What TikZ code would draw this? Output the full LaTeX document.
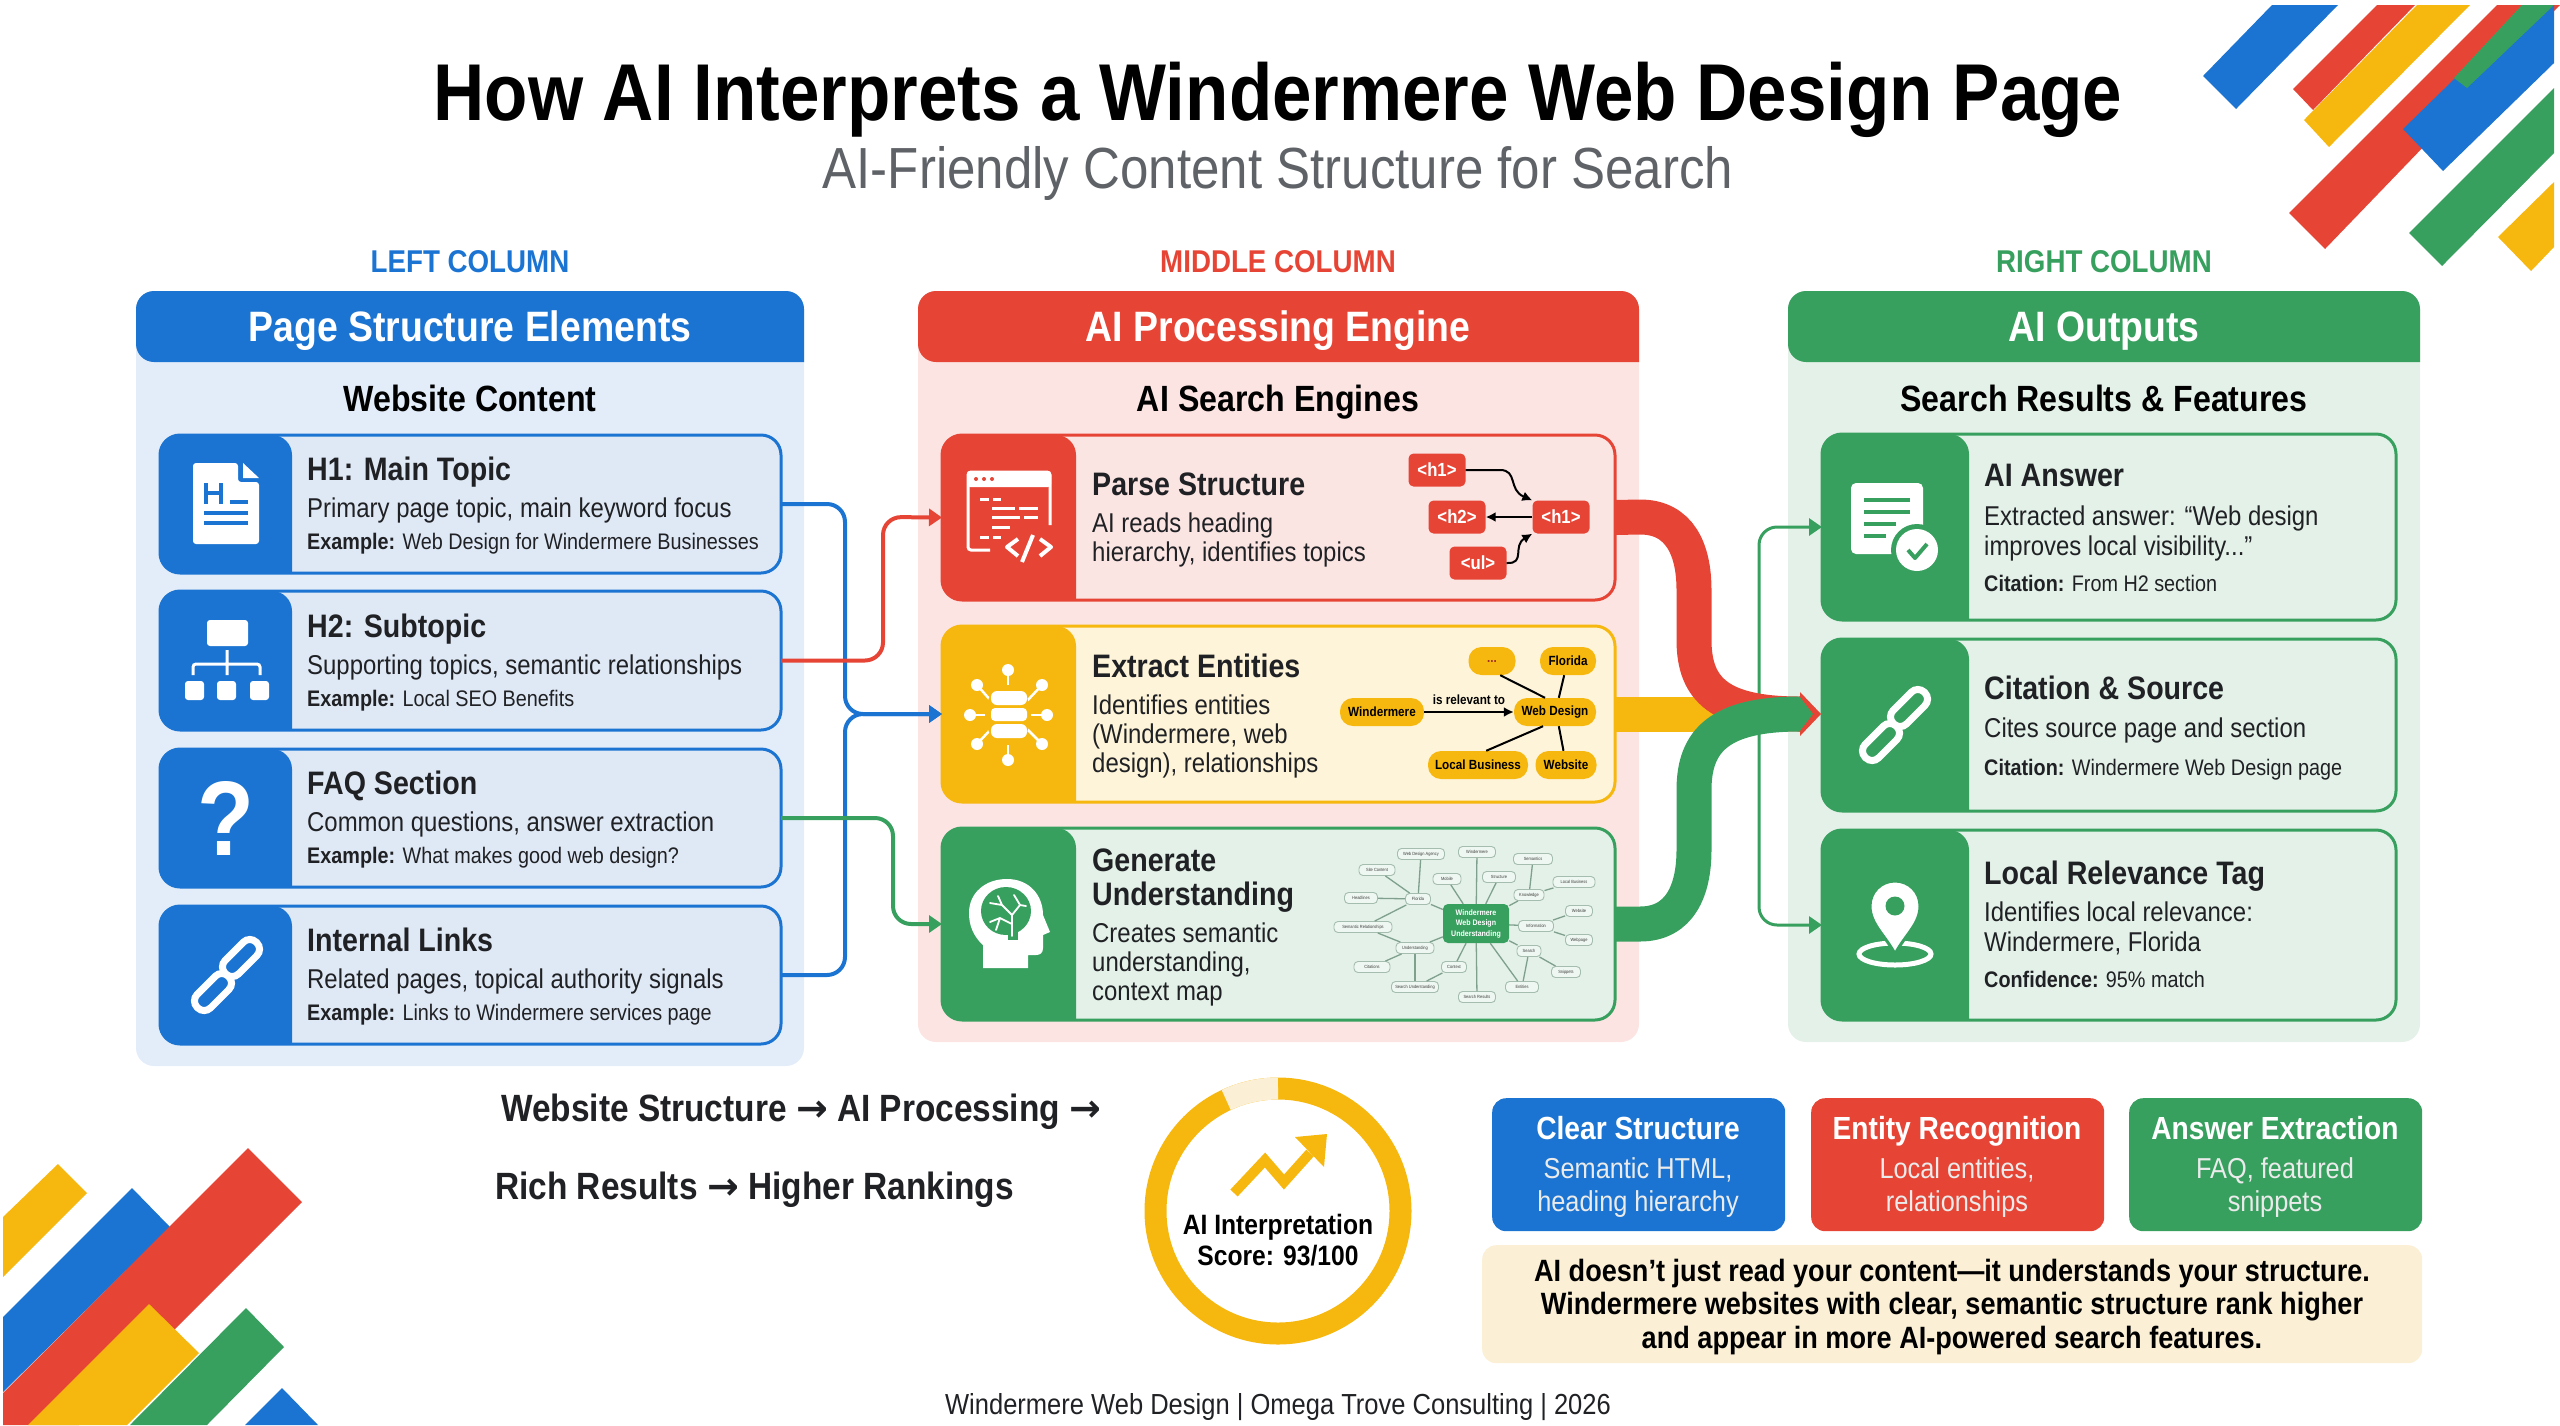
\documentclass[tikz,border=0pt]{standalone}
\usepackage{fontspec}
\setmainfont[FakeStretch=0.88]{Liberation Sans}
\newfontfamily\arrowfont{DejaVu Sans}
\usepackage{tikz}
\usetikzlibrary{arrows.meta,calc,positioning}
\definecolor{gblue}{HTML}{1B74D2}
\definecolor{gred}{HTML}{E64536}
\definecolor{gyellow}{HTML}{F6B70F}
\definecolor{ggreen}{HTML}{38A05F}
\definecolor{bluepanel}{HTML}{E3EDF9}
\definecolor{redpanel}{HTML}{FCE4E2}
\definecolor{greenpanel}{HTML}{E4F1E8}
\definecolor{bluecard}{HTML}{DFE9F6}
\definecolor{redcard}{HTML}{FBE5E3}
\definecolor{yellowcard}{HTML}{FEF4D9}
\definecolor{greencard}{HTML}{E3F1E8}
\definecolor{creambox}{HTML}{FBF0D6}
\definecolor{palering}{HTML}{FBEFD5}
\definecolor{inkgray}{HTML}{202124}
\definecolor{subgray}{HTML}{5F6368}
\definecolor{mapline}{HTML}{7FA08C}
\newcommand{\flowarrow}{{\arrowfont\bfseries →}}
\tikzset{
    panel/.style 2 args={rounded corners=18pt, fill=#1, inner sep=0, outer sep=0, anchor=north west,
        path picture={\fill[#2] (path picture bounding box.north west) rectangle ++(900,71);}},
    card/.style n args={3}{rounded corners=20pt, draw=#2, fill=#1, line width=3pt, inner sep=0, outer sep=0, anchor=north west,
        path picture={\fill[#2] (path picture bounding box.north west) rectangle ++(#3,300);}},
    collabel/.style={inner sep=0, anchor=base, font=\fontsize{31.5}{38}\selectfont\bfseries},
    headtext/.style={inner sep=0, anchor=base, text=white, font=\fontsize{42.5}{50}\selectfont\bfseries},
    subhead/.style={inner sep=0, anchor=base, text=black, font=\fontsize{36.5}{44}\selectfont\bfseries},
    cardhead/.style={inner sep=0, anchor=base west, text=inkgray, font=\fontsize{32.5}{39}\selectfont\bfseries},
    cardtext/.style={inner sep=0, anchor=base west, text=inkgray, font=\fontsize{27.2}{32}\selectfont},
    cardex/.style={inner sep=0, anchor=base west, text=inkgray, font=\fontsize{22.5}{27}\selectfont},
    conn/.style={draw=#1, line width=4pt, rounded corners=18pt, -{Triangle[length=13pt,width=17pt]}},
    ribbon/.style={draw=#1, line width=35pt},
    tagnode/.style={fill=gred, rounded corners=5pt, text=white, inner sep=0, minimum width=57pt, minimum height=33pt, font=\fontsize{19}{22}\selectfont\bfseries},
    tagline/.style={draw=black, line width=2pt, -{Latex[length=10pt,width=10pt]}},
    entnode/.style={fill=gyellow, rounded corners=13pt, text=black, inner sep=0, minimum height=28pt, font=\fontsize{13.3}{16}\selectfont\bfseries},
    mappill/.style={draw=mapline!70, fill=greencard!60!white, rounded corners=4pt, line width=0.9pt, inner sep=0, minimum height=11pt, text=black!75, font=\fontsize{4.5}{5}\selectfont},
    mapedge/.style={draw=mapline, line width=1.3pt},
    chiptitle/.style={inner sep=0, anchor=base, text=white, font=\fontsize{32}{38}\selectfont\bfseries},
    chiptext/.style={inner sep=0, anchor=base, text=white!92!black, font=\fontsize{28.8}{34}\selectfont},
    claim/.style={inner sep=0, anchor=base, text=black, font=\fontsize{30.8}{37}\selectfont\bfseries},
    flowline/.style={inner sep=0, anchor=base west, text=inkgray, font=\fontsize{38}{45}\selectfont\bfseries},
    scorenode/.style={inner sep=0, anchor=base, text=black, font=\fontsize{28}{34}\selectfont\bfseries},
    chainlink/.style={rectangle, draw=white, rounded corners=9pt, line width=7pt, minimum width=44pt, minimum height=19pt, rotate=45},
    chainicon/.pic={
        \node[chainlink] (a) at (14,-17) {};
        \node[chainlink] (b) at (-14,17) {};
    }
}
\begin{document}
\begin{tikzpicture}[x=1pt,y=-1pt]
\useasboundingbox (0,0) rectangle (2560,1425);

    % corner bars, top right
    \fill[gred] (2293,89)--(2313,110)--(2415,5)--(2377,5)--cycle;
    \fill[gyellow] (2304,120)--(2329,147)--(2470,5)--(2417,5)--cycle;
    \fill[gblue] (2203,76)--(2236,109)--(2338,5)--(2272,5)--cycle;
    \fill[gred] (2289,213)--(2325,249)--(2560,5)--(2497,5)--cycle;
    \fill[gblue] (2403,129)--(2443,171)--(2554,63)--(2554,5)--(2530,5)--cycle;
    \fill[ggreen] (2454,78)--(2467,88)--(2554,5)--(2522,5)--cycle;
    \fill[ggreen] (2409,233)--(2442,266)--(2554,153)--(2554,88)--cycle;
    \fill[gyellow] (2498,237)--(2531,271)--(2554,247)--(2554,182)--cycle;
    % corner bars, bottom left
    \fill[gyellow] (3,1217)--(58,1164)--(87,1193)--(3,1277)--cycle;
    \fill[gblue] (132,1188)--(170,1227)--(3,1392)--(3,1317)--cycle;
    \fill[gred] (248,1148)--(302,1202)--(79,1425)--(3,1425)--(3,1393)--cycle;
    \fill[ggreen] (246,1308)--(284,1347)--(207,1425)--(130,1425)--cycle;
    \fill[gyellow] (149,1304)--(199,1353)--(127,1425)--(28,1425)--cycle;
    \fill[gblue] (282,1388)--(318,1425)--(245,1425)--cycle;

    % titles
    \node[inner sep=0, anchor=base, text=black, font=\fontsize{80.6}{96}\selectfont\bfseries] (title) at (1278,120) {How AI Interprets a Windermere Web Design Page};
    \node[inner sep=0, anchor=base, text=subgray, font=\fontsize{58}{68}\selectfont] (subtitle) at (1278,188) {AI-Friendly Content Structure for Search};
    \node[collabel, text=gblue] (leftlabel) at (470,272) {LEFT COLUMN};
    \node[collabel, text=gred] (midlabel) at (1278,272) {MIDDLE COLUMN};
    \node[collabel, text=ggreen] (rightlabel) at (2104,272) {RIGHT COLUMN};

    % panels
    \node[panel={bluepanel}{gblue}, minimum width=668pt, minimum height=775pt] (leftpanel) at (136,291) {};
    \node[panel={redpanel}{gred}, minimum width=721pt, minimum height=751pt] (midpanel) at (918,291) {};
    \node[panel={greenpanel}{ggreen}, minimum width=632pt, minimum height=751pt] (rightpanel) at (1788,291) {};
    \node[headtext] (lefthead) at (470,341) {Page Structure Elements};
    \node[headtext] (midhead) at (1278,341) {AI Processing Engine};
    \node[headtext] (righthead) at (2104,341) {AI Outputs};
    \node[subhead] (leftsub) at (470,411) {Website Content};
    \node[subhead] (midsub) at (1278,411) {AI Search Engines};
    \node[subhead] (rightsub) at (2104,411) {Search Results \& Features};

    % left cards
    \node[card={bluecard}{gblue}{132}, minimum width=621pt, minimum height=138pt] (h1card) at (160,435) {};
    \node[card={bluecard}{gblue}{132}, minimum width=621pt, minimum height=139pt] (h2card) at (160,591) {};
    \node[card={bluecard}{gblue}{132}, minimum width=621pt, minimum height=138pt] (faqcard) at (160,749) {};
    \node[card={bluecard}{gblue}{132}, minimum width=621pt, minimum height=138pt] (linkcard) at (160,906) {};

    % middle cards
    \node[card={redcard}{gred}{134}, minimum width=673pt, minimum height=165pt] (parsecard) at (942,435) {};
    \node[card={yellowcard}{gyellow}{134}, minimum width=673pt, minimum height=176pt] (extractcard) at (942,626) {};
    \node[card={greencard}{ggreen}{134}, minimum width=673pt, minimum height=192pt] (gencard) at (942,828) {};

    % right cards
    \node[card={greencard}{ggreen}{147}, minimum width=574pt, minimum height=186pt] (answercard) at (1822,434) {};
    \node[card={greencard}{ggreen}{147}, minimum width=574pt, minimum height=172pt] (citecard) at (1822,639) {};
    \node[card={greencard}{ggreen}{147}, minimum width=574pt, minimum height=190pt] (localcard) at (1822,830) {};

    % left card texts
    \node[cardhead] (h1head) at (307,480) {H1: Main Topic};
    \node[cardtext] (h1text) at (307,517) {Primary page topic, main keyword focus};
    \node[cardex] (h1ex) at (307,549) {\textbf{Example:} Web Design for Windermere Businesses};
    \node[cardhead] (h2head) at (307,637) {H2: Subtopic};
    \node[cardtext] (h2text) at (307,674) {Supporting topics, semantic relationships};
    \node[cardex] (h2ex) at (307,706) {\textbf{Example:} Local SEO Benefits};
    \node[cardhead] (faqhead) at (307,794) {FAQ Section};
    \node[cardtext] (faqtext) at (307,831) {Common questions, answer extraction};
    \node[cardex] (faqex) at (307,863) {\textbf{Example:} What makes good web design?};
    \node[cardhead] (linkhead) at (307,951) {Internal Links};
    \node[cardtext] (linktext) at (307,988) {Related pages, topical authority signals};
    \node[cardex] (linkex) at (307,1020) {\textbf{Example:} Links to Windermere services page};

    % middle card texts
    \node[cardhead] (parsehead) at (1092,495) {Parse Structure};
    \node[cardtext] (parse1) at (1092,532) {AI reads heading};
    \node[cardtext] (parse2) at (1092,561) {hierarchy, identifies topics};
    \node[cardhead] (exthead) at (1092,677) {Extract Entities};
    \node[cardtext] (ext1) at (1092,714) {Identifies entities};
    \node[cardtext] (ext2) at (1092,743) {(Windermere, web};
    \node[cardtext] (ext3) at (1092,772) {design), relationships};
    \node[cardhead] (genhead1) at (1092,871) {Generate};
    \node[cardhead] (genhead2) at (1092,905) {Understanding};
    \node[cardtext] (gen1) at (1092,942) {Creates semantic};
    \node[cardtext] (gen2) at (1092,971) {understanding,};
    \node[cardtext] (gen3) at (1092,1000) {context map};

    % right card texts
    \node[cardhead] (anshead) at (1984,486) {AI Answer};
    \node[cardtext] (ans1) at (1984,525) {Extracted answer: “Web design};
    \node[cardtext] (ans2) at (1984,555) {improves local visibility...”};
    \node[cardex] (ans3) at (1984,591) {\textbf{Citation:} From H2 section};
    \node[cardhead] (citehead) at (1984,699) {Citation \& Source};
    \node[cardtext] (cite1) at (1984,737) {Cites source page and section};
    \node[cardex] (cite2) at (1984,775) {\textbf{Citation:} Windermere Web Design page};
    \node[cardhead] (lochead) at (1984,884) {Local Relevance Tag};
    \node[cardtext] (loc1) at (1984,921) {Identifies local relevance:};
    \node[cardtext] (loc2) at (1984,951) {Windermere, Florida};
    \node[cardex] (loc3) at (1984,987) {\textbf{Confidence:} 95\% match};

    % left icons
    \fill[white, rounded corners=3pt] (193,463)--(238,463)--(238,482)--(259,482)--(259,544)--(193,544)--cycle;
    \fill[white] (243,463)--(259,478)--(243,478)--cycle;
    \draw[gblue, line width=4pt] (206,483)--(206,504) (221,483)--(221,504) (206,493)--(221,493);
    \draw[gblue, line width=4pt] (230,502)--(248,502) (204,513)--(248,513) (204,523)--(248,523);
    \fill[white, rounded corners=3pt] (207,620) rectangle (248,646);
    \draw[white, line width=3pt, rounded corners=3pt] (227,650)--(227,675) (193,675)--(193,664)--(260,664)--(260,675);
    \fill[white, rounded corners=3pt] (185,681) rectangle (204,700);
    \fill[white, rounded corners=3pt] (217,681) rectangle (236,700);
    \fill[white, rounded corners=3pt] (250,681) rectangle (269,700);
    \node[inner sep=0, text=white, font=\fontsize{106}{110}\selectfont\bfseries] (qmark) at (226,818) {?};
    \pic (linkicon) at (227,975) {chainicon};

    % middle icons
    \draw[white, line width=3pt, rounded corners=3pt] (990,550)--(968,550)--(968,472)--(1050,472)--(1050,525);
    \fill[white, rounded corners=3pt] (967,471) rectangle (1051,487);
    \foreach \dotx in {976,984,992} \fill[gred] (\dotx,479) circle (2pt);
    \draw[white, line width=3pt] (980,499)--(989,499) (993,499)--(1001,499) (992,508)--(1015,508) (1019,508)--(1038,508)
        (992,517)--(1020,517) (1024,517)--(1038,517) (992,527)--(1010,527) (980,537)--(989,537) (993,537)--(1001,537);
    \draw[white, line width=4pt, line join=round] (1018,539)--(1007,547)--(1018,556) (1033,535)--(1022,562) (1040,539)--(1051,547)--(1040,556);
    \foreach \spx/\spy/\balx/\baly in {1008/700/1008/670, 1008/732/1008/760, 992/715/970/715, 1026/715/1047/715, 992/702/977/685, 1026/702/1042/685, 992/728/977/744, 1026/728/1042/744} {
        \draw[white, line width=2.5pt] (\spx,\spy)--(\balx,\baly);
        \fill[white] (\balx,\baly) circle (6pt);
    }
    \fill[gyellow] (1008,715) ellipse (23pt and 30pt);
    \fill[white, rounded corners=6pt] (991,691) rectangle (1027,705);
    \fill[white, rounded corners=4pt] (991,708) rectangle (1027,721);
    \fill[white, rounded corners=6pt] (991,724) rectangle (1027,738);
    \fill[white] (983,968)--(983,945) .. controls (973,936) and (969,925) .. (969,913) .. controls (969,893) and (985,879) .. (1007,879) .. controls (1030,879) and (1043,896) .. (1043,915) -- (1050,932) -- (1043,935) -- (1043,948) .. controls (1043,953) and (1040,955) .. (1036,955) -- (1028,955) -- (1028,968) -- cycle;
    \fill[ggreen] (1006,911) ellipse (25pt and 24pt);
    \fill[ggreen] (1008,925) rectangle (1018,940);
    \draw[white, line width=1.8pt, line cap=round, line join=round] (1012,936)--(1012,915)--(1020,905)--(1026,906) (1012,915)--(1002,905)--(998,896) (1002,905)--(990,903) (1012,924)--(1000,918)--(990,922) (1000,918)--(996,930) (1020,905)--(1014,895);

    % right icons
    \fill[white, rounded corners=5pt] (1851,483) rectangle (1923,554);
    \draw[ggreen, line width=3.5pt] (1864,500)--(1910,500) (1864,512)--(1910,512) (1864,524)--(1896,524) (1864,536)--(1886,536);
    \fill[ggreen] (1917,550) circle (26pt);
    \fill[white] (1917,550) circle (21pt);
    \draw[ggreen, line width=4pt, line join=round] (1908,550)--(1915,558)--(1927,544);
    \pic (citeicon) at (1895,725) {chainicon};
    \draw[white, line width=5pt] (1895,954) ellipse (36pt and 11pt);
    \fill[white, draw=ggreen, line width=3pt] (1895,954) .. controls (1885,935) and (1870,924) .. (1870,906) .. controls (1870,892) and (1881,881) .. (1895,881) .. controls (1909,881) and (1920,892) .. (1920,906) .. controls (1920,924) and (1905,935) .. (1895,954) -- cycle;
    \fill[ggreen] (1895,906) circle (9.5pt);

    % tags in parse card
    \node[tagnode] (tagtop) at (1437,470) {<h1>};
    \node[tagnode] (tagsub) at (1457,517) {<h2>};
    \node[tagnode] (tagmain) at (1561,517) {<h1>};
    \node[tagnode] (taglist) at (1478,563) {<ul>};
    \draw[tagline] (tagtop.east) -- (1500,470) .. controls (1518,470) and (1508,490) .. (tagmain.north west);
    \draw[tagline] (tagmain.west) -- (tagsub.east);
    \draw[tagline] (taglist.east) .. controls (1526,564) and (1512,546) .. (tagmain.south west);

    % entity graph in extract card
    \node[entnode, minimum width=84pt] (entwin) at (1382,712) {Windermere};
    \node[entnode, minimum width=82pt] (entweb) at (1555,712) {Web Design};
    \node[entnode, minimum width=47pt, text=gred!70!black] (entdots) at (1492,661) {...};
    \node[entnode, minimum width=56pt] (entflo) at (1568,661) {Florida};
    \node[entnode, minimum width=100pt] (entloc) at (1478,765) {Local Business};
    \node[entnode, minimum width=61pt] (entsite) at (1566,765) {Website};
    \draw[tagline] (entwin) -- node[above=5pt, inner sep=1pt, text=black, font=\fontsize{13.3}{16}\selectfont\bfseries] (relevant) {is relevant to} (entweb);
    \draw[line width=2pt] (entdots.-60) -- (entweb.125);
    \draw[line width=2pt] (entflo.-105) -- (entweb.75);
    \draw[line width=2pt] (entloc.60) -- (entweb.-130);
    \draw[line width=2pt] (entsite.100) -- (entweb.-75);

    % mind map in generate card
    \node[fill=ggreen, rounded corners=5pt, inner sep=0, minimum width=66pt, minimum height=39pt, align=center, text=white, font=\fontsize{8}{10.5}\selectfont\bfseries] (mapcore) at (1476,923.5) {Windermere\\Web Design\\Understanding};
    \foreach \mapname/\mapx/\mapy/\mapw/\maptxt in {
        m1/1421/854/47/Web Design Agency, m2/1477/852/37/Windermere, m3/1533/859/39/Semantics,
        m4/1377/870/36/Site Content, m5/1447/879/28/Mobile, m6/1499/877/33/Structure,
        m7/1529/895/30/Knowledge, m8/1574/882/42/Local Business, m9/1361/898/33/Headlines,
        m10/1418/899/25/Florida, m11/1579/911/27/Website, m12/1363/927/58/Semantic Relationships,
        m13/1536/926/35/Information, m14/1579/940/27/Webpage, m15/1415/948/38/Understanding,
        m16/1529/951/24/Search, m17/1372/967/36/Citations, m18/1454/967/25/Context,
        m19/1566/972/29/Snippets, m20/1415/987/47/Search Understanding, m21/1522/987/33/Entities,
        m22/1477/997/37/Search Results} {
        \node[mappill, minimum width=\mapw pt] (\mapname) at (\mapx,\mapy) {\maptxt};
    }
    \foreach \mapa/\mapb in {mapcore/m2, mapcore/m5, mapcore/m6, mapcore/m7, mapcore/m10, mapcore/m13, mapcore/m15, mapcore/m16, mapcore/m18, mapcore/m21, mapcore/m22,
        m1/m10, m4/m10, m9/m10, m10/m12, m12/m15, m15/m17, m15/m20, m18/m20, m3/m7, m7/m8, m13/m11, m13/m14, m16/m19, m16/m21} {
        \draw[mapedge] (\mapa) -- (\mapb);
    }

    % thin connectors
    \coordinate (bluebus) at (845,714);
    \coordinate (redbus) at (883,517);
    \coordinate (greenbus) at (893,924);
    \coordinate (merge) at (1759,714);
    \coordinate (ribbonend) at (1800,714);
    \draw[conn=gblue] (h1card.east) -| (bluebus) -- (extractcard.west);
    \draw[conn=gblue] (linkcard.east) -| (bluebus) -- (extractcard.west);
    \draw[conn=gred] (h2card.east) -| (redbus) -- (parsecard.west);
    \draw[conn=ggreen] (faqcard.east) -| (greenbus) -- (gencard.west);
    \draw[conn=ggreen, line width=3pt] (merge) |- (answercard.west);
    \draw[conn=ggreen, line width=3pt] (merge) |- (localcard.west);

    % ribbons
    \draw[ribbon=gyellow] (extractcard.east) -- (merge);
    \draw[ribbon=gred] (parsecard.east) -- (1640,517) .. controls (1680,517) and (1694,550) .. (1694,590) -- (1694,640) .. controls (1694,690) and (1720,714) .. (ribbonend);
    \fill[gred] (1800,692)--(1821,714)--(1800,736)--cycle;
    \draw[ribbon=ggreen] (gencard.east) -- (1640,924) .. controls (1680,924) and (1694,890) .. (1694,850) -- (1694,790) .. controls (1694,740) and (1720,714) .. (ribbonend);
    \fill[ggreen] (1799,696)--(1813,714)--(1799,732)--cycle;

    % flow text
    \node[flowline] (flow1) at (501,1121) {Website Structure \flowarrow{} AI Processing \flowarrow};
    \node[flowline] (flow2) at (495,1199) {Rich Results \flowarrow{} Higher Rankings};

    % score ring
    \node[circle, draw=gyellow, line width=22pt, minimum size=245pt, inner sep=0, outer sep=0] (scorering) at (1278,1211) {};
    \draw[palering, line width=22pt] (scorering.north) .. controls (1260.1,1088.5) and (1242.4,1092.4) .. (1226.2,1100);
    \draw[gyellow, line width=10pt] (1234,1193)--(1265,1160)--(1284,1182)--(1310,1153);
    \fill[gyellow] (1327,1134)--(1295,1137)--(1324,1167)--cycle;
    \node[scorenode] (score1) at (1278,1234) {AI Interpretation};
    \node[scorenode] (score2) at (1278,1265) {Score: 93/100};

    % chips and claim
    \node[fill=gblue, rounded corners=14pt, inner sep=0, minimum width=293pt, minimum height=133pt, anchor=north west] (chipblue) at (1492,1098) {};
    \node[fill=gred, rounded corners=14pt, inner sep=0, minimum width=293pt, minimum height=133pt, anchor=north west] (chipred) at (1811,1098) {};
    \node[fill=ggreen, rounded corners=14pt, inner sep=0, minimum width=293pt, minimum height=133pt, anchor=north west] (chipgreen) at (2129,1098) {};
    \node[chiptitle] (blue1) at (1638,1139) {Clear Structure};
    \node[chiptext] (blue2) at (1638,1178) {Semantic HTML,};
    \node[chiptext] (blue3) at (1638,1211) {heading hierarchy};
    \node[chiptitle] (red1) at (1957,1139) {Entity Recognition};
    \node[chiptext] (red2) at (1957,1178) {Local entities,};
    \node[chiptext] (red3) at (1957,1211) {relationships};
    \node[chiptitle] (green1) at (2275,1139) {Answer Extraction};
    \node[chiptext] (green2) at (2275,1178) {FAQ, featured};
    \node[chiptext] (green3) at (2275,1211) {snippets};
    \node[fill=creambox, rounded corners=14pt, inner sep=0, minimum width=940pt, minimum height=118pt, anchor=north west] (claimbox) at (1482,1245) {};
    \node[claim] (claim1) at (1952,1281) {AI doesn’t just read your content—it understands your structure.};
    \node[claim] (claim2) at (1952,1314) {Windermere websites with clear, semantic structure rank higher};
    \node[claim] (claim3) at (1952,1348) {and appear in more AI-powered search features.};

    % footer
    \node[inner sep=0, anchor=base, text=inkgray, font=\fontsize{29}{35}\selectfont] (footer) at (1278,1414) {Windermere Web Design | Omega Trove Consulting | 2026};

\end{tikzpicture}
\end{document}
